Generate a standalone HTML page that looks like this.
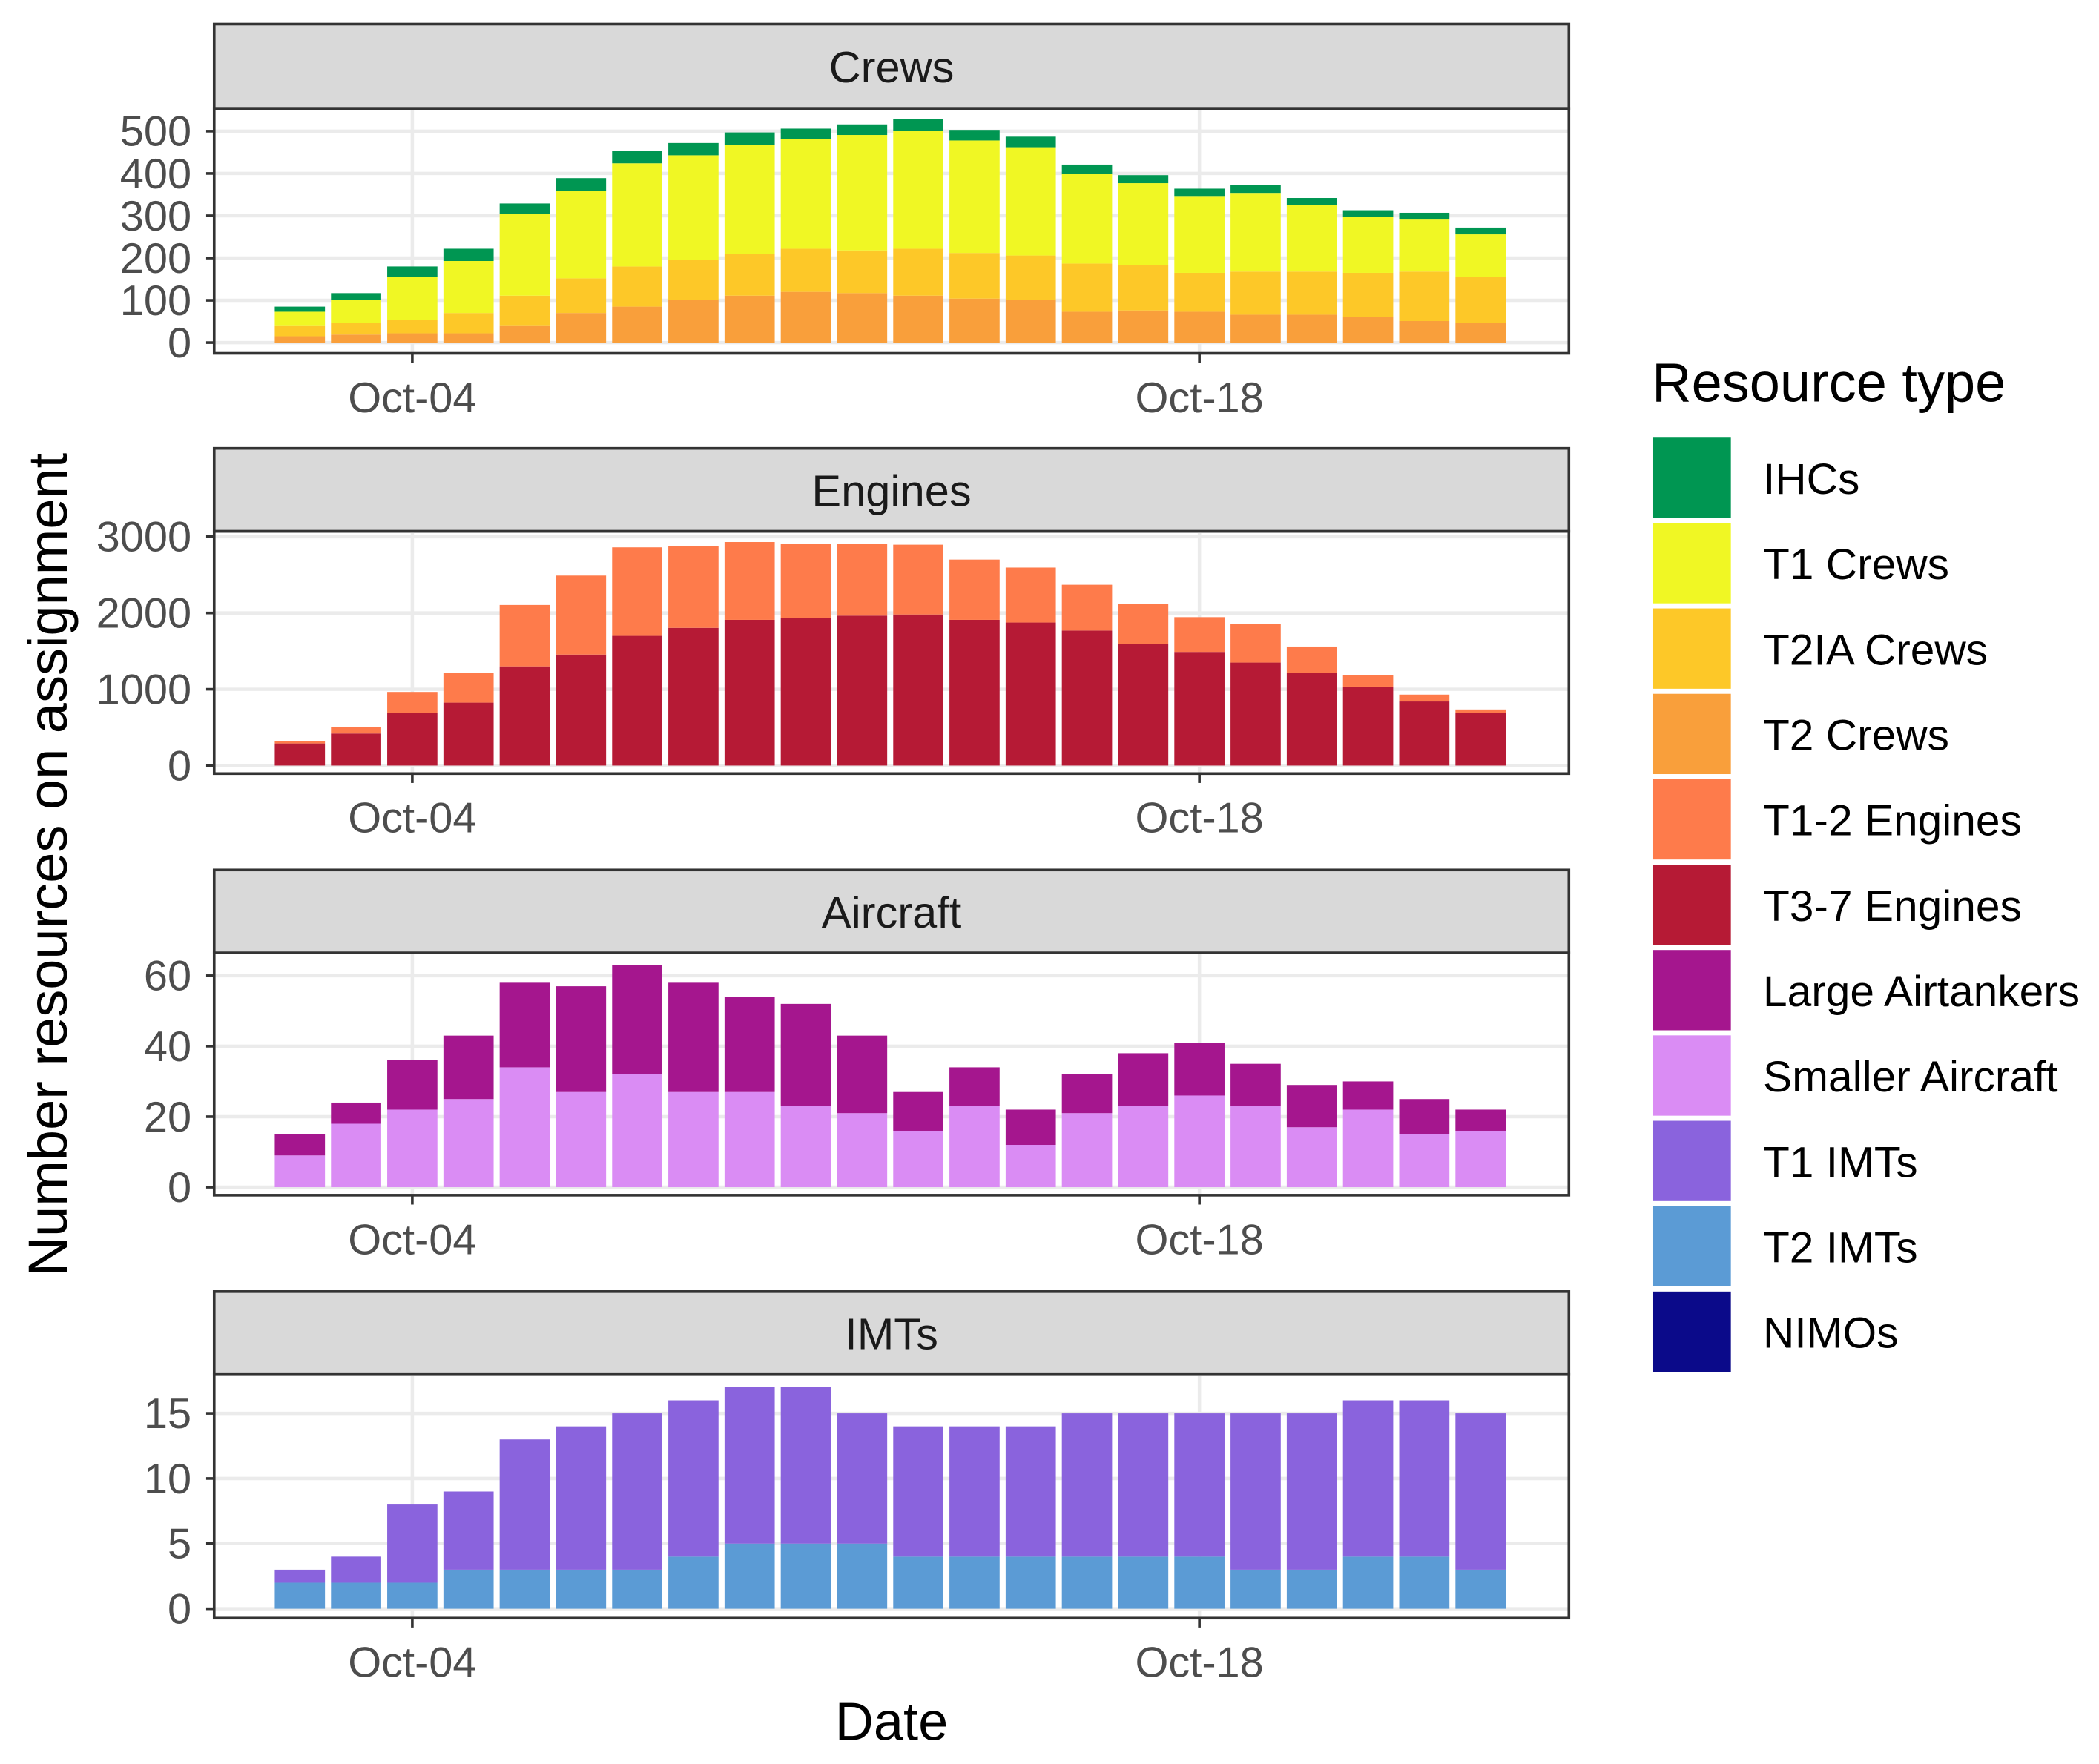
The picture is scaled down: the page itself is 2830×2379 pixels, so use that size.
<!DOCTYPE html>
<html><head><meta charset="utf-8"><style>
html,body{margin:0;padding:0;background:#fff}
svg{display:block}
text{font-family:"Liberation Sans",Arial,sans-serif}
</style></head><body>
<svg id="chart" width="2830" height="2379" viewBox="0 0 1568 1318" preserveAspectRatio="none" xmlns="http://www.w3.org/2000/svg">
<rect x="0" y="0" width="1568" height="1318" fill="#fff"/>
<text x="0" y="0" transform="translate(50,646) rotate(-90)" text-anchor="middle" font-size="41" fill="#000">Number resources on assignment</text>
<text x="666" y="1300" text-anchor="middle" font-size="40" fill="#000">Date</text>
<g id="legend"></g>
</svg>
<script>
const NS='http://www.w3.org/2000/svg';
const days=[2,3,4,5,6,7,8,9,10,11,12,13,14,15,16,17,18,19,20,21,22,23];
const dateTickDays=[4,18];
const dateTickLabels=['Oct-04','Oct-18'];
// Crews
const crewsT2=[15,19,22,22,41,70,85,101,111,120,117,111,104,101,73,76,73,66,66,60,51,47];
const crewsT2IA=[26,28,32,48,70,82,95,95,98,102,101,111,108,105,114,108,92,102,102,105,117,108];
const crewsT1=[32,54,101,123,193,206,244,247,259,259,273,278,266,256,212,193,180,186,158,132,123,101];
const crewsIHC=[12,16,25,29,25,31,29,29,29,25,25,28,25,25,22,19,19,19,16,16,16,16];
// Engines
const engT37=[290,420,685,825,1300,1455,1700,1805,1910,1930,1965,1980,1910,1875,1770,1595,1490,1350,1210,1035,840,685];
const engT12=[30,90,280,385,805,1035,1160,1070,1020,980,945,915,790,720,600,525,455,510,350,155,90,50];
// Aircraft
const airSmall=[9,18,22,25,34,27,32,27,27,23,21,16,23,12,21,23,26,23,17,22,15,16];
const airLarge=[6,6,14,18,24,30,31,31,27,29,22,11,11,10,11,15,15,12,12,8,10,6];
// IMTs
const imtT2=[2,2,2,3,3,3,3,4,5,5,5,4,4,4,4,4,4,3,3,4,4,3];
const imtT1=[1,2,6,6,10,11,12,12,12,12,10,10,10,10,11,11,11,12,12,12,12,12];
const crewsTicks=[0,100,200,300,400,500];
const engTicks=[0,1000,2000,3000];
const airTicks=[0,20,40,60];
const imtTicks=[0,5,10,15];
const legendLabels=['IHCs','T1 Crews','T2IA Crews','T2 Crews','T1-2 Engines','T3-7 Engines','Large Airtankers','Smaller Aircraft','T1 IMTs','T2 IMTs','NIMOs'];
const legendColors=['#009652','#F0F724','#FDC828','#F99F3B','#FE7B4B','#B61A35','#A5168E','#DA8CF4','#8A63DD','#5B9BD5','#0B0A8A'];

const svg=document.getElementById('chart');
function el(tag,attrs,parent){const e=document.createElementNS(NS,tag);for(const k in attrs)e.setAttribute(k,attrs[k]);(parent||svg).appendChild(e);return e;}
const PX0=160,PX1=1172;
function xScale(d){return 308+(d-4)*42;}
const barW=37.5;

const panels=[
 {name:'Crews',key:'crews',stripY:18,top:81,bot:264,y0:256,yTop:98,vTop:500,ticks:crewsTicks,
  series:[[crewsT2,'#F99F3B'],[crewsT2IA,'#FDC828'],[crewsT1,'#F0F724'],[crewsIHC,'#009652']]},
 {name:'Engines',key:'engines',stripY:335,top:397,bot:578,y0:572,yTop:401,vTop:3000,ticks:engTicks,
  series:[[engT37,'#B61A35'],[engT12,'#FE7B4B']]},
 {name:'Aircraft',key:'aircraft',stripY:650,top:712,bot:893,y0:887,yTop:729,vTop:60,ticks:airTicks,
  series:[[airSmall,'#DA8CF4'],[airLarge,'#A5168E']]},
 {name:'IMTs',key:'imts',stripY:965,top:1027,bot:1209,y0:1202,yTop:1056,vTop:15,ticks:imtTicks,
  series:[[imtT2,'#5B9BD5'],[imtT1,'#8A63DD']]}
];

panels.forEach(p=>{
  const g=el('g',{});
  
  
  const ys=v=>p.y0-(p.y0-p.yTop)*v/p.vTop;
  const strip=el('rect',{x:PX0,y:p.stripY,width:PX1-PX0,height:p.top-p.stripY,fill:'#D9D9D9',stroke:'#333','stroke-width':2},g);
  
  
  const st=el('text',{x:(PX0+PX1)/2,y:p.stripY+(p.top-p.stripY)/2+12,'text-anchor':'middle','font-size':33,fill:'#1A1A1A'},g);
  st.textContent=p.name;
  
  
  p.ticks.forEach(v=>{const y=ys(v);el('line',{x1:PX0,x2:PX1,y1:y,y2:y,stroke:'#EBEBEB','stroke-width':2.5},g);});
  dateTickDays.forEach(d=>{const x=xScale(d);el('line',{x1:x,x2:x,y1:p.top,y2:p.bot,stroke:'#EBEBEB','stroke-width':2.5},g);});
  days.forEach((d,i)=>{
    let cum=0;
    p.series.forEach(([arr,col])=>{
      const v=arr[i];const y1=ys(cum),y2=ys(cum+v);cum+=v;
      const r=el('rect',{x:xScale(d)-barW/2,y:y2,width:barW,height:Math.max(0,y1-y2),fill:col},g);
      
      
    });
  });
  el('rect',{x:PX0,y:p.top,width:PX1-PX0,height:p.bot-p.top,fill:'none',stroke:'#333','stroke-width':2},g);
  p.ticks.forEach(v=>{const y=ys(v);
    el('line',{x1:PX0-6,x2:PX0,y1:y,y2:y,stroke:'#333','stroke-width':2},g);
    const t=el('text',{x:PX0-17,y:y+11,'text-anchor':'end','font-size':32,fill:'#4D4D4D'},g);
    t.textContent=String(v);
    
    
  });
  dateTickDays.forEach((d,i)=>{const x=xScale(d);
    el('line',{x1:x,x2:x,y1:p.bot,y2:p.bot+7,stroke:'#333','stroke-width':2},g);
    const t=el('text',{x:x,y:p.bot+44,'text-anchor':'middle','font-size':32,fill:'#4D4D4D'},g);
    t.textContent=dateTickLabels[i];
    
    
  });
});

const lg=document.getElementById('legend');
const lt=el('text',{x:1234,y:300,'font-size':41,fill:'#000'},lg);
lt.textContent='Resource type';


legendLabels.forEach((lab,i)=>{
  const y=327+i*63.8;
  const k=el('rect',{x:1235,y:y,width:58,height:60,fill:legendColors[i]},lg);
  
  
  const t=el('text',{x:1317,y:y+42,'font-size':32.5,fill:'#000'},lg);
  t.textContent=lab;
  
  
});
</script>
</body></html>
